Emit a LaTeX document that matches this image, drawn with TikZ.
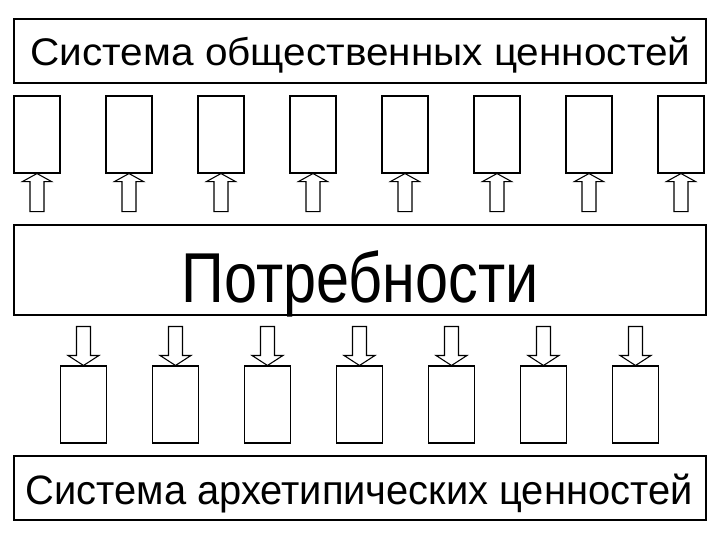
\documentclass[tikz,border=0pt]{standalone}
\usepackage{fontspec}
\setmainfont{Liberation Sans}
\usetikzlibrary{calc}
\begin{document}
\begin{tikzpicture}[x=0.75pt,y=-0.75pt,line width=0.8pt,
  bigbox/.style={draw,inner sep=0pt,minimum width=519pt},
  smallbox/.style={draw,inner sep=0pt,minimum width=34.5pt,minimum height=57.75pt},
  blockarrow/.style={draw,fill=white,line join=miter},
  caption/.style={anchor=base,inner sep=0pt}]
\useasboundingbox (0,0) rectangle (720,540);
% big boxes
\node[bigbox,minimum height=48pt] (top) at (360,51) {};
\node[bigbox,minimum height=67.5pt] (mid) at (360,270) {};
\node[bigbox,minimum height=48pt] (bot) at (360,488) {};
\node[caption,font=\fontsize{30.4}{36}\selectfont] (toptext) at (360.5,65) {\scalebox{1}[0.95]{Система общественных ценностей}};
\node[caption,font=\fontsize{53}{60}\selectfont] (midtext) at (360,302) {\scalebox{0.84}[1]{Потребности}};
\node[caption,font=\fontsize{29.9}{36}\selectfont] (bottext) at (359,504) {\scalebox{1}[1.03]{Система архетипических ценностей}};
% upper small boxes and arrows
\foreach \i in {0,...,7}{
  \node[smallbox] (t\i) at (37+92*\i,134.5) {};
  \draw[blockarrow] (t\i.south) -- ++(14.5,8) -- ++(-7.5,0) -- ++(0,30) -- ++(-14,0) -- ++(0,-30) -- ++(-7.5,0) -- cycle;
}
% lower small boxes and arrows
\foreach \i in {0,...,6}{
  \node[smallbox] (b\i) at (83.5+92*\i,404.5) {};
  \draw[blockarrow] (b\i.north) -- ++(15.5,-10) -- ++(-8.5,0) -- ++(0,-29) -- ++(-14,0) -- ++(0,29) -- ++(-8.5,0) -- cycle;
}
\end{tikzpicture}
\end{document}
